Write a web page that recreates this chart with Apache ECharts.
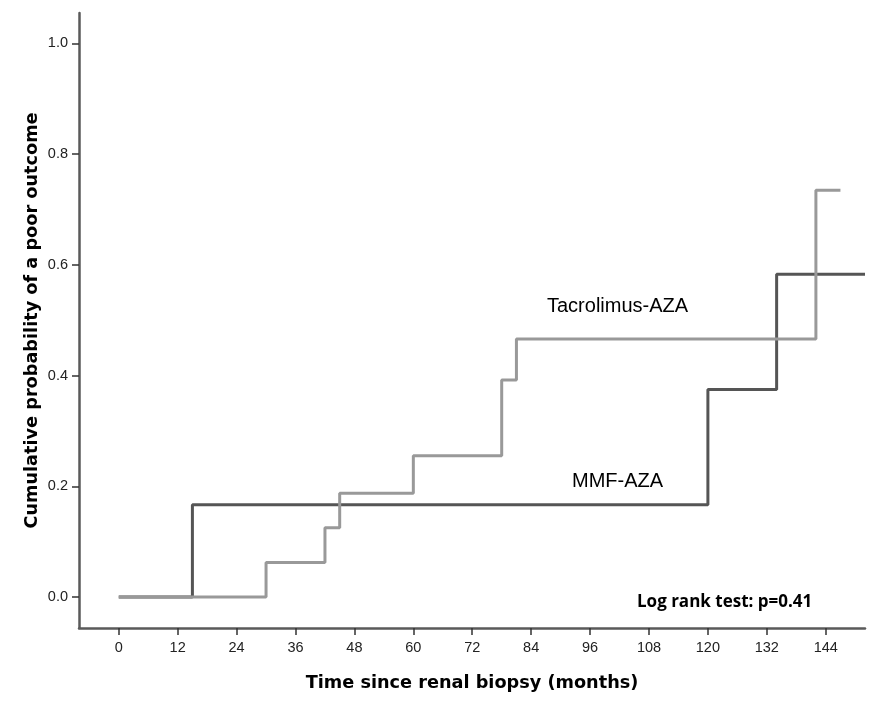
<!DOCTYPE html>
<html>
<head>
<meta charset="utf-8">
<script src="https://cdn.jsdelivr.net/npm/echarts@6/dist/echarts.min.js"></script>
<style>html,body{margin:0;padding:0;background:#fff;}#c{width:884px;height:715px;}</style>
</head>
<body>
<div id="c"></div>
<script>
const xTicks = [0, 12, 24, 36, 48, 60, 72, 84, 96, 108, 120, 132, 144];
const yTicks = [0, 0.2, 0.4, 0.6, 0.8, 1.0];
const mmfTimes = [0, 15, 120, 134, 152];
const mmfProb = [0, 0.1667, 0.375, 0.583, 0.583];
const tacTimes = [0, 30, 42, 45, 60, 78, 81, 142, 147];
const tacProb = [0, 0.0625, 0.125, 0.1875, 0.255, 0.392, 0.466, 0.735, 0.735];
const seriesNames = ['MMF-AZA', 'Tacrolimus-AZA'];

const chart = echarts.init(document.getElementById('c'));
const axisColor = '#5a5a5a';
chart.setOption({
  animation: false,
  backgroundColor: '#fff',
  grid: { left: 79, right: 19, top: 13, bottom: 87 },
  xAxis: {
    type: 'value', min: -8.1, max: 152,
    name: 'Time since renal biopsy (months)',
    nameLocation: 'middle', nameGap: 46,
    nameTextStyle: { fontFamily: 'DejaVu Sans', fontWeight: 'bold', fontSize: 17.7, color: '#000' },
    axisLine: { show: true, onZero: false, lineStyle: { color: axisColor, width: 2.5 } },
    axisTick: { show: true, length: 7, inside: false, customValues: xTicks, lineStyle: { color: '#333', width: 1.5 } },
    axisLabel: { customValues: xTicks, margin: 12, fontFamily: 'Liberation Sans', fontSize: 14.5, color: '#222' },
    splitLine: { show: false }
  },
  yAxis: {
    type: 'value', min: -0.056, max: 1.055,
    name: 'Cumulative probability of a poor outcome',
    nameLocation: 'middle', nameGap: 38, nameRotate: 90, nameMoveOverlap: false,
    nameTextStyle: { fontFamily: 'DejaVu Sans', fontWeight: 'bold', fontSize: 17.7, color: '#000' },
    axisLine: { show: true, onZero: false, lineStyle: { color: axisColor, width: 2.5 } },
    axisTick: { show: true, length: 7, customValues: yTicks, lineStyle: { color: '#333', width: 1.5 } },
    axisLabel: { customValues: yTicks, margin: 11, fontFamily: 'Liberation Sans', fontSize: 14.5, color: '#222',
      formatter: v => v.toFixed(1) },
    splitLine: { show: false }
  },
  series: [
    {
      name: seriesNames[0], type: 'line', step: 'end', symbol: 'none',
      lineStyle: { color: '#555', width: 3 },
      data: mmfTimes.map((t, i) => [t, mmfProb[i]]),
      z: 2
    },
    {
      name: seriesNames[1], type: 'line', step: 'end', symbol: 'none',
      lineStyle: { color: '#999', width: 3 },
      data: tacTimes.map((t, i) => [t, tacProb[i]]),
      z: 3
    }
  ],
  graphic: [
    { type: 'text', left: 547, top: 296, style: { text: 'Tacrolimus-AZA', fontFamily: 'Liberation Sans', fontSize: 20, fill: '#000' } },
    { type: 'text', left: 572, top: 471, style: { text: 'MMF-AZA', fontFamily: 'Liberation Sans', fontSize: 20, fill: '#000' } },
    { type: 'text', left: 637, top: 594, style: { text: 'Log rank test: p=0.41', fontFamily: 'Open Sans', fontWeight: 'bold', fontSize: 17, fill: '#000' } }
  ]
});
</script>
</body>
</html>
